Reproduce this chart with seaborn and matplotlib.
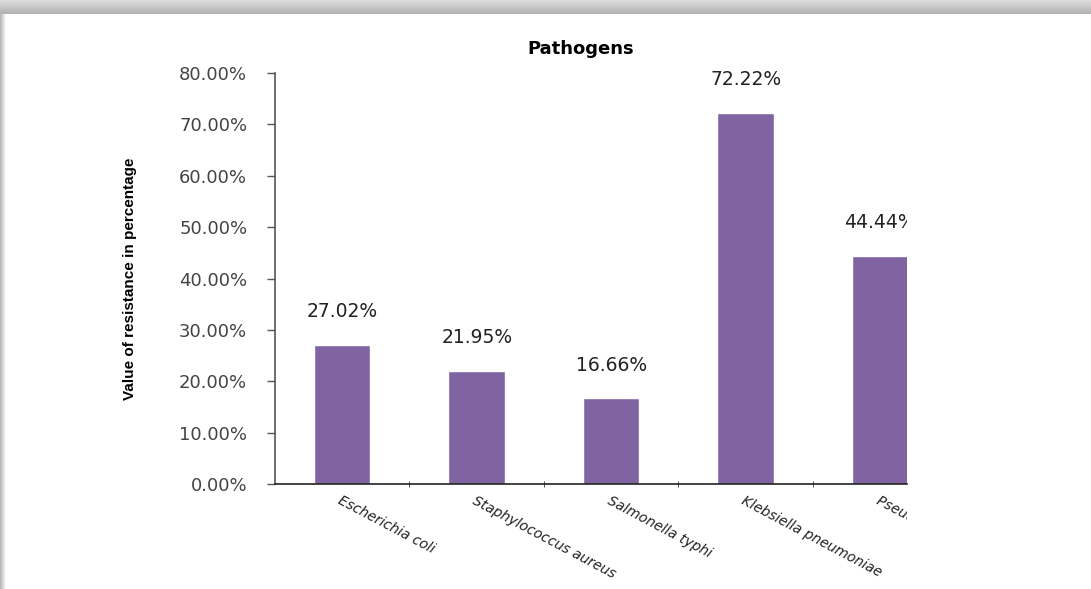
import seaborn as sns
import matplotlib.pyplot as plt
import numpy as np
from matplotlib.ticker import FuncFormatter, FixedLocator
from matplotlib.transforms import Bbox, TransformedBbox

pathogens = ['Escherichia coli', 'Staphylococcus aureus', 'Salmonella typhi',
             'Klebsiella pneumoniae', 'Pseudomonas aeruginosa']
resistance = [27.02, 21.95, 16.66, 72.22, 44.44]
value_labels = ['27.02%', '21.95%', '16.66%', '72.22%', '44.44%']

sns.set_style('white')
plt.rcParams['font.family'] = ['DejaVu Sans']

fig = plt.figure(figsize=(10.91, 5.89), dpi=100)

# screenshot-like frame shadow
bg = fig.add_axes([0, 0, 1, 1], zorder=-10)
bg.axis('off')
img = np.ones((589, 1091))
img[:14, :] = np.linspace(0.86, 0.70, 14)[:, None]
img[14:, :6] = np.minimum(img[14:, :6], np.linspace(0.72, 0.97, 6)[None, :])
bg.imshow(img, cmap='gray', vmin=0, vmax=1, aspect='auto', extent=(0, 1, 0, 1))

ax = fig.add_axes([275 / 1091, 1 - 484 / 589, 632 / 1091, 411 / 589])
sns.barplot(x=pathogens, y=resistance, color='#8064A2', saturation=1, width=0.42, ax=ax)

ax.set_xlim(-0.5, 4.2)
ax.set_ylim(0, 80)
ax.set_yticks(np.arange(0, 81, 10))
ax.yaxis.set_major_formatter(FuncFormatter(lambda v, p: f'{v:.2f}%'))
ax.tick_params(axis='y', which='major', direction='out', length=6, width=1,
               color='#555555', pad=14, labelsize=13, labelcolor='#444444', left=True)
ax.xaxis.set_minor_locator(FixedLocator([0.5, 1.5, 2.5, 3.5]))
ax.tick_params(axis='x', which='major', length=0, pad=7)
ax.tick_params(axis='x', which='minor', direction='inout', length=5, color='#333333', bottom=True)

for side in ['top', 'right']:
    ax.spines[side].set_visible(False)
ax.spines['left'].set_color('#555555')
ax.spines['bottom'].set_color('#222222')
ax.spines['left'].set_linewidth(1.2)
ax.spines['bottom'].set_linewidth(1.2)

clip = TransformedBbox(Bbox([[0, 0], [907 / 1091, 1]]), fig.transFigure)

ax.set_xticks(range(len(pathogens)))
ax.set_xticklabels(pathogens, rotation=-28, ha='left', rotation_mode='anchor',
                   fontsize=10, style='italic', color='#222222')
for t in ax.get_xticklabels():
    t.set_clip_box(clip)
    t.set_clip_on(True)

for i, (v, lab) in enumerate(zip(resistance, value_labels)):
    t = ax.annotate(lab, xy=(i, v), xytext=(0, 24), textcoords='offset points',
                    ha='center', va='center', fontsize=13.5, color='#222222')
    t.set_clip_box(clip)
    t.set_clip_on(True)

ax.set_title('Pathogens', fontsize=13, fontweight='bold', x=0.483, pad=14, color='black')
ax.set_xlabel('')
ax.set_ylabel('Value of resistance in percentage', fontsize=11, fontweight='bold',
              family=['Liberation Sans', 'DejaVu Sans'], color='black')
ax.yaxis.set_label_coords(-0.218, 0.5)

fig.savefig('out.png', dpi=100)
